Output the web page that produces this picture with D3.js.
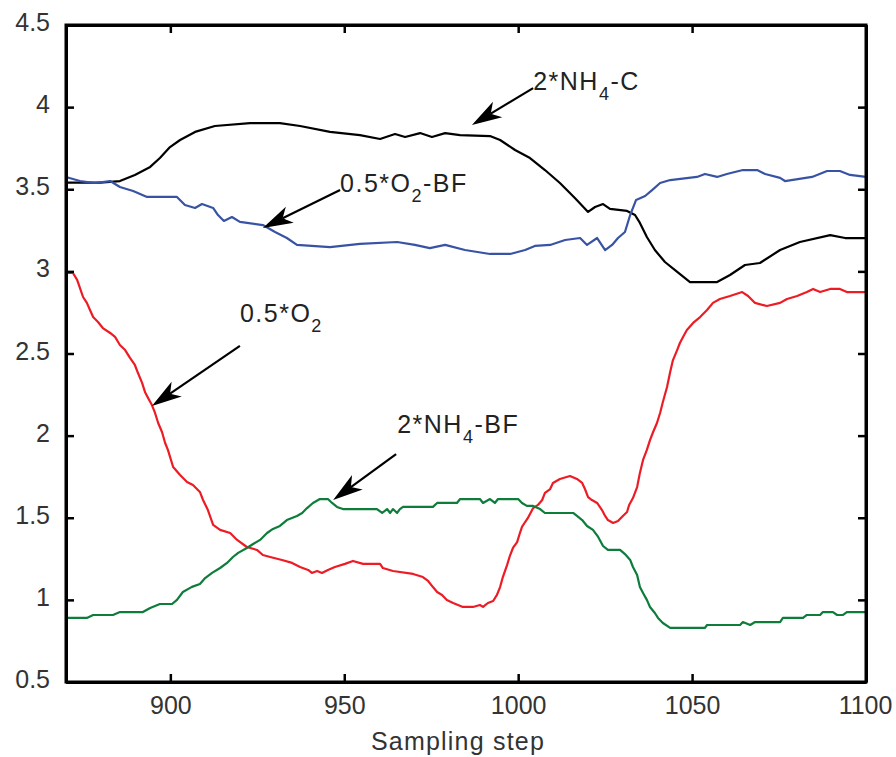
<!DOCTYPE html>
<html>
<head>
<meta charset="utf-8">
<script src="https://cdn.jsdelivr.net/npm/d3@7"></script>
<style>
html,body{margin:0;padding:0;background:#fff;}
svg{display:block;}
text{font-family:"Liberation Sans",Arial,sans-serif;}
</style>
</head>
<body>
<svg id="chart" width="896" height="757"></svg>
<script>
// ---- data ----
const xTicks = [900, 950, 1000, 1050, 1100];
const yTicks = [0.5, 1, 1.5, 2, 2.5, 3, 3.5, 4, 4.5];
const yTickLabels = ["0.5","1","1.5","2","2.5","3","3.5","4","4.5"];
const xLabel = "Sampling step";

const nh4C_x = [870,879.8,885.5,889.8,894.2,897,899.9,902.8,907.1,912.8,922.9,931.5,937.3,945.9,954.5,960.3,964.6,967.5,971.8,975.2,979,983.3,991.9,994.8,999.1,1003.4,1007.7,1012,1016.3,1020.1,1022.1,1024.4,1026.4,1031.3,1033.6,1035,1037,1039.3,1042.2,1045.1,1049.4,1057.2,1060.9,1065.2,1069.5,1075.3,1081,1089.7,1094,1100];
const nh4C_y = [3.54,3.54,3.55,3.587,3.636,3.69,3.757,3.80,3.849,3.885,3.903,3.903,3.885,3.849,3.830,3.806,3.836,3.818,3.842,3.818,3.842,3.830,3.824,3.80,3.739,3.690,3.617,3.538,3.447,3.362,3.392,3.410,3.380,3.368,3.343,3.295,3.209,3.130,3.057,3.008,2.935,2.935,2.978,3.039,3.051,3.130,3.179,3.221,3.203,3.203];

const o2BF_x = [870,874,878.3,882.7,885.5,889.3,893.3,901.9,904.2,907.1,909.1,912.3,913.7,915.4,917.7,920,926.6,930.1,933.5,936.4,945.9,954.5,965.2,970.3,974.6,979,984.7,991.9,997.7,1002,1004.8,1009.2,1013.5,1017.8,1019.8,1022.7,1025,1027,1028.7,1030.7,1032.2,1033.9,1036.5,1038.5,1040.8,1043.7,1051.4,1053.7,1057.2,1060,1064.6,1068.7,1071,1075.3,1076.7,1084.5,1088.8,1092.5,1095.4,1100];
const o2BF_y = [3.575,3.550,3.538,3.550,3.514,3.489,3.453,3.453,3.404,3.386,3.410,3.386,3.343,3.307,3.331,3.301,3.282,3.240,3.203,3.161,3.148,3.167,3.179,3.161,3.142,3.161,3.130,3.106,3.106,3.130,3.155,3.161,3.191,3.203,3.161,3.203,3.130,3.161,3.203,3.240,3.343,3.435,3.459,3.495,3.538,3.556,3.575,3.593,3.575,3.593,3.617,3.617,3.593,3.569,3.550,3.575,3.611,3.611,3.587,3.575];

const o2_x = [870,872,873.2,874,874.9,876,876.9,877.8,879.2,880.6,882.7,884.1,885.5,887,888.4,889.8,890.7,891.9,892.7,893.6,894.7,895.6,896.5,897.6,898.5,899.3,900.8,902.8,904.8,906.5,908.5,909.4,910.8,912.3,914.3,917.2,919.2,922,924.9,926.6,928.7,932.1,935,937.3,939.6,940.7,942.2,943.6,945.3,947.3,950.2,952.5,955.4,960.3,961.1,964,969.8,972.6,974.1,975.5,976.7,978.1,979.5,981.3,984.1,987,989,989.9,991.3,992.8,993.9,994.8,995.6,996.8,997.7,998.5,999.7,1000.5,1001.1,1002,1002.8,1004.3,1005.7,1006.9,1007.7,1009.2,1010,1012,1014.9,1016.9,1018.4,1019.2,1020.1,1021.2,1022.7,1024.1,1025,1025.8,1027.3,1028.7,1030.1,1031.3,1031.9,1033,1034.2,1035,1035.9,1037,1037.9,1038.8,1039.9,1040.8,1041.6,1042.8,1043.7,1044.5,1045.7,1046.5,1047.4,1048.5,1050.3,1052.3,1054.3,1056,1058,1060.9,1064.4,1066.1,1068.1,1071.5,1075.3,1077.3,1080.2,1083,1084.8,1086.8,1089.7,1092.5,1094.5,1100];
const o2_y = [2.990,2.990,2.948,2.899,2.844,2.808,2.765,2.722,2.692,2.655,2.625,2.601,2.552,2.521,2.473,2.430,2.381,2.320,2.266,2.229,2.186,2.138,2.077,2.022,1.955,1.913,1.809,1.760,1.718,1.699,1.657,1.608,1.547,1.456,1.426,1.407,1.365,1.322,1.304,1.273,1.261,1.243,1.225,1.200,1.182,1.164,1.176,1.164,1.182,1.200,1.219,1.237,1.219,1.219,1.194,1.176,1.158,1.139,1.115,1.078,1.048,1.030,0.999,0.981,0.957,0.957,0.969,0.957,0.981,0.993,1.030,1.078,1.139,1.212,1.273,1.316,1.352,1.407,1.444,1.474,1.499,1.559,1.578,1.608,1.651,1.675,1.712,1.736,1.754,1.736,1.712,1.675,1.626,1.608,1.590,1.547,1.511,1.486,1.468,1.480,1.511,1.535,1.578,1.620,1.687,1.773,1.852,1.913,1.973,2.022,2.077,2.138,2.205,2.296,2.387,2.460,2.521,2.564,2.601,2.643,2.686,2.722,2.765,2.808,2.832,2.850,2.874,2.850,2.808,2.789,2.808,2.832,2.850,2.874,2.893,2.874,2.893,2.893,2.874,2.874];

const nh4BF_x = [870,876,877.8,883.5,885.5,892.1,894.2,897,900.5,901.9,903.6,906.2,908.5,910,912,914.3,916.3,918,919.5,922,923.8,925.8,927.8,929.5,931.5,933.5,936.4,937.9,939.3,941,943,945.3,946.5,947.9,949.6,959.4,960.9,962.3,963.2,964,965.2,966,966.9,975.5,976.7,982.4,983.3,989,989.9,991.9,993.3,994.2,1000,1001.1,1002.5,1004.3,1006.3,1007.7,1015.8,1016.9,1018.4,1019.8,1021.5,1023,1024.4,1025.8,1029.3,1030.7,1032.2,1033,1034.2,1035,1035.9,1037,1037.9,1039.3,1040.2,1041.6,1043.7,1053.7,1054.3,1063.8,1064.6,1066.7,1068.1,1075.3,1076.1,1081.9,1083,1086.8,1087.6,1090.5,1091.7,1093.4,1094.5,1100];
const nh4BF_y = [0.890,0.890,0.908,0.908,0.926,0.926,0.951,0.975,0.975,1.000,1.048,1.079,1.097,1.133,1.164,1.194,1.225,1.261,1.286,1.316,1.340,1.365,1.407,1.432,1.450,1.486,1.511,1.529,1.559,1.590,1.614,1.614,1.590,1.566,1.553,1.553,1.529,1.553,1.529,1.553,1.529,1.553,1.566,1.566,1.590,1.590,1.614,1.614,1.590,1.614,1.590,1.614,1.614,1.590,1.572,1.572,1.553,1.529,1.529,1.511,1.486,1.450,1.426,1.383,1.328,1.304,1.304,1.279,1.243,1.200,1.152,1.078,1.042,1.000,0.957,0.920,0.890,0.859,0.829,0.829,0.847,0.847,0.865,0.847,0.865,0.865,0.890,0.890,0.908,0.908,0.926,0.926,0.908,0.908,0.926,0.926];

// annotations: label parts [text, isSubscript], label anchor, arrow start -> tip (data units)
const annLabels = [
  [["2*NH",0],["4",1],["-C",0]],
  [["0.5*O",0],["2",1],["-BF",0]],
  [["0.5*O",0],["2",1]],
  [["2*NH",0],["4",1],["-BF",0]]
];
const annTextX = [1004.3, 948.8, 920.0, 965.2];
const annTextY = [4.104, 3.483, 2.692, 2.016];
const annFromX = [1004.3, 948.8, 920.0, 964.9];
const annFromY = [4.116, 3.495, 2.546, 1.888];
const annToX   = [986.7, 926.6, 894.7, 946.8];
const annToY   = [3.891, 3.264, 2.180, 1.608];

const seriesNames = ["2*NH4-C","0.5*O2-BF","0.5*O2","2*NH4-BF"];
const seriesColors = ["#000000","#3853a4","#ed1c24","#0e7c3a"];

// ---- drawing ----
const svg = d3.select("#chart");
const M = {left:66, right:866, top:25, bottom:682};
const x = d3.scaleLinear().domain([870,1100]).range([M.left, M.right]);
const y = d3.scaleLinear().domain([0.5,4.5]).range([M.bottom, M.top]);

const seriesX = [nh4C_x, o2BF_x, o2_x, nh4BF_x];
const seriesY = [nh4C_y, o2BF_y, o2_y, nh4BF_y];

const line = d3.line().x(d=>x(d[0])).y(d=>y(d[1]));
const plot = svg.append("g");
seriesX.forEach((xs,i)=>{
  const pts = xs.map((v,j)=>[v, seriesY[i][j]]);
  plot.append("path").datum(pts)
    .attr("d", line)
    .attr("fill","none")
    .attr("stroke", seriesColors[i])
    .attr("stroke-width", 2.2)
    .attr("stroke-linejoin","round");
});

// axes with inward ticks on all four sides
const tickLen = 8;
function styleAxis(g){
  g.select(".domain").attr("stroke","#000").attr("stroke-width",3);
  g.selectAll(".tick line").attr("stroke","#000").attr("stroke-width",2.5);
}
const gB = svg.append("g").attr("transform",`translate(0,${M.bottom})`)
  .call(d3.axisBottom(x).tickValues(xTicks).tickSizeInner(-tickLen).tickSizeOuter(0).tickPadding(14).tickFormat(d3.format("d")));
styleAxis(gB);
gB.selectAll(".tick text").attr("font-size",25).attr("fill","#333").attr("dy","0.71em")
  .attr("font-family","'Liberation Sans',Arial,sans-serif");
// last label 1100 shift to fit
gB.selectAll(".tick text").filter(d=>d===1100).attr("dx", -1);

const gT = svg.append("g").attr("transform",`translate(0,${M.top})`)
  .call(d3.axisTop(x).tickValues(xTicks).tickSizeInner(-tickLen).tickSizeOuter(0).tickFormat(""));
styleAxis(gT);

const gL = svg.append("g").attr("transform",`translate(${M.left},0)`)
  .call(d3.axisLeft(y).tickValues(yTicks).tickSizeInner(-tickLen).tickSizeOuter(0).tickPadding(16)
    .tickFormat((d,i)=>yTickLabels[i]));
styleAxis(gL);
gL.selectAll(".tick text").attr("font-size",25).attr("fill","#333").attr("dy","0.22em")
  .attr("font-family","'Liberation Sans',Arial,sans-serif");

const gR = svg.append("g").attr("transform",`translate(${M.right},0)`)
  .call(d3.axisRight(y).tickValues(yTicks).tickSizeInner(-tickLen).tickSizeOuter(0).tickFormat(""));
styleAxis(gR);

// frame
svg.append("rect").attr("x",M.left).attr("y",M.top).attr("width",M.right-M.left).attr("height",M.bottom-M.top)
  .attr("fill","none").attr("stroke","#000").attr("stroke-width",3);

// x label
svg.append("text").attr("x",458).attr("y",750).attr("text-anchor","middle")
  .attr("font-size",25).attr("fill","#333").attr("letter-spacing",1.2).text(xLabel);

// annotations
const ann = svg.append("g");
annLabels.forEach((parts,i)=>{
  const t = ann.append("text").attr("x",x(annTextX[i])).attr("y",y(annTextY[i]))
    .attr("font-size",25).attr("fill","#222").attr("letter-spacing",1.5);
  parts.forEach(p=>{
    if(p[1]) t.append("tspan").attr("font-size",18).attr("dy",10).text(p[0]);
    else {
      const ts = t.append("tspan").text(p[0]);
      if(t.selectAll("tspan").size()>1) ts.attr("dy",-10);
    }
  });
  const x0=x(annFromX[i]), y0=y(annFromY[i]), x1=x(annToX[i]), y1=y(annToY[i]);
  const ang = Math.atan2(y1-y0, x1-x0);
  const L = 30, W = 9, N = 22;
  const ux=Math.cos(ang), uy=Math.sin(ang), px=-uy, py=ux;
  ann.append("line").attr("x1",x0).attr("y1",y0)
    .attr("x2",x1-ux*N).attr("y2",y1-uy*N)
    .attr("stroke","#000").attr("stroke-width",2.2);
  const head = [
    [x1,y1],
    [x1-ux*L+px*W, y1-uy*L+py*W],
    [x1-ux*N, y1-uy*N],
    [x1-ux*L-px*W, y1-uy*L-py*W]
  ];
  ann.append("path").attr("d","M"+head.map(p=>p.join(",")).join("L")+"Z").attr("fill","#000");
});
</script>
</body>
</html>
